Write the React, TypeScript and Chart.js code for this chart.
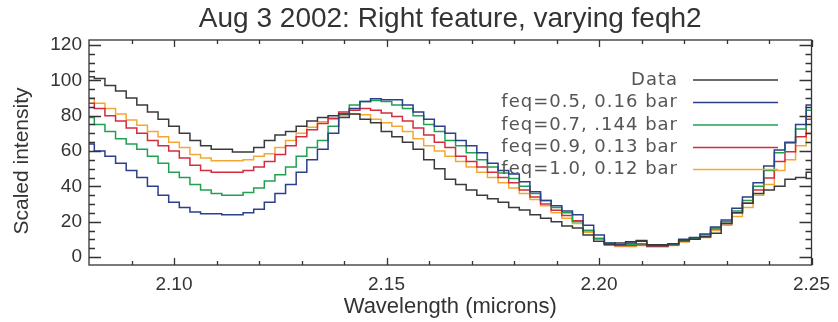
import React, { useEffect, useRef } from "react";
import { Chart, registerables } from "chart.js";

Chart.register(...registerables);

const titleText = "Aug 3 2002: Right feature, varying feqh2";
const xTitle = "Wavelength (microns)";
const yTitle = "Scaled intensity";

const wavelengths = [
  2.08, 2.0825, 2.085, 2.0875, 2.09, 2.0925, 2.095, 2.0975, 2.1, 2.1025,
  2.105, 2.1075, 2.11, 2.1125, 2.115, 2.1175, 2.12, 2.1225, 2.125, 2.1275,
  2.13, 2.1325, 2.135, 2.1375, 2.14, 2.1425, 2.145, 2.1475, 2.15, 2.1525,
  2.155, 2.1575, 2.16, 2.1625, 2.165, 2.1675, 2.17, 2.1725, 2.175, 2.1775,
  2.18, 2.1825, 2.185, 2.1875, 2.19, 2.1925, 2.195, 2.1975, 2.2, 2.2025,
  2.205, 2.2075, 2.21, 2.2125, 2.215, 2.2175, 2.22, 2.2225, 2.225, 2.2275,
  2.23, 2.2325, 2.235, 2.2375, 2.24, 2.2425, 2.245, 2.2475, 2.25,
];

const dataValues = [
  102, 101, 97, 94, 90, 86, 82, 78, 74, 70,
  66, 63, 61, 61, 59.5, 59.5, 62, 66, 69, 71,
  74, 77, 79, 80, 81, 81, 78, 76, 71, 68,
  65, 61, 55, 50, 44, 41, 38, 35, 33, 31,
  28, 26.6, 24, 22, 20, 17.5, 16.4, 12.5, 9, 7,
  8, 8.7, 9.3, 7, 7, 7.5, 9.6, 10, 11.5, 13.5,
  19, 25, 30.5, 36, 38, 40, 44, 45, 48,
];

const feq05 = [
  64, 60, 57, 53, 49, 45, 40, 35, 31, 28,
  25.5, 24.5, 24.5, 24, 24, 25, 27, 31, 36, 41,
  48, 55, 61, 70, 79, 84, 88, 89.5, 89, 89,
  86, 82, 78, 74, 70, 66, 63, 59, 53, 49,
  47, 42.6, 37, 32, 29, 26, 24, 18, 12.5, 8,
  7, 8, 9, 6.5, 6.5, 7.5, 10, 11, 13, 17,
  21, 27.6, 34, 42, 51.5, 60.5, 65, 75, 86,
];

const feq07 = [
  79, 75, 71, 67, 64, 61, 57, 53, 48, 45,
  41, 38, 36, 35, 35, 36.5, 39, 43, 46.5, 51,
  57, 62, 66, 74, 81, 86, 88, 88.5, 88, 86,
  84, 80, 75, 71, 66, 63, 59, 55, 51, 47.5,
  44.5, 40, 36, 32, 28, 25, 20, 15, 10.5, 8,
  7, 7.3, 7.5, 6.5, 6.5, 7.3, 9.5, 10.5, 12.5, 16.4,
  20, 26, 32, 40, 49, 59, 64.5, 72.5, 83,
];

const feq09 = [
  87, 84, 80, 77, 73, 70, 66, 63, 60, 56,
  52, 49, 48, 48, 48, 49, 51, 54, 58, 63,
  68, 72, 75.5, 78.5, 82, 83, 84, 83, 81.5, 79.5,
  77, 73, 69, 65, 62, 57, 54, 51, 48, 45,
  42, 38, 34, 30, 26.5, 23.5, 20.5, 15, 10.5, 7.5,
  6.5, 6.5, 7, 6, 6, 6.8, 9, 10, 11.5, 15.8,
  19, 25, 30.5, 38, 44.7, 54, 59.6, 68, 78,
];

const feq10 = [
  90, 87, 84, 81, 77.5, 74.5, 71, 68, 65, 62,
  58, 56, 54.5, 54.5, 54.5, 55, 57, 58.5, 62, 66,
  70, 73.5, 76.5, 78, 80, 81, 80.5, 78, 76, 74,
  71, 67, 63, 60, 57, 54, 51, 48, 45, 42,
  39, 36, 32.5, 29, 25, 22, 19, 14, 10, 7,
  6, 6, 6.5, 6, 6, 6.5, 8.5, 10, 11, 15,
  18, 23, 28, 35, 41, 49, 55, 63, 70,
];

const seriesLabels = [
  "Data",
  "feq=0.5, 0.16 bar",
  "feq=0.7, .144 bar",
  "feq=0.9, 0.13 bar",
  "feq=1.0, 0.12 bar",
];
const seriesColors = ["#3a3a3a", "#2c3f8a", "#22a052", "#d22c3e", "#f5a733"];
const seriesValues = [dataValues, feq05, feq07, feq09, feq10];

const xTicks = [2.1, 2.15, 2.2, 2.25];
const xMinorTicks = [
  2.09, 2.1, 2.11, 2.12, 2.13, 2.14, 2.15, 2.16, 2.17, 2.18, 2.19, 2.2,
  2.21, 2.22, 2.23, 2.24, 2.25,
];
const yTicks = [0, 20, 40, 60, 80, 100, 120];
const yMinorTicks = [
  0, 5, 10, 15, 20, 25, 30, 35, 40, 45, 50, 55, 60, 65, 70, 75, 80, 85, 90,
  95, 100, 105, 110, 115, 120,
];

const FONT = '"Liberation Sans", Arial, Helvetica, sans-serif';
const INK = "#333333";

const framePlugin = {
  id: "idlFrame",
  afterDatasetsDraw(chart: any) {
    const { ctx, chartArea, scales } = chart;
    const { left, right, top, bottom } = chartArea;
    const x = scales.x;
    const y = scales.y;
    ctx.save();
    ctx.strokeStyle = INK;
    ctx.lineWidth = 1.3;
    ctx.strokeRect(left, top, right - left, bottom - top);
    ctx.beginPath();
    for (const v of xMinorTicks) {
      const px = Math.round(x.getPixelForValue(v)) + 0.5;
      const major = xTicks.some((t) => Math.abs(t - v) < 1e-9);
      const len = major ? 7 : 4;
      ctx.moveTo(px, bottom);
      ctx.lineTo(px, bottom - len);
      ctx.moveTo(px, top);
      ctx.lineTo(px, top + len);
    }
    for (const v of yMinorTicks) {
      const py = Math.round(y.getPixelForValue(v)) + 0.5;
      const major = yTicks.indexOf(v) >= 0;
      const len = major ? 12 : 6;
      ctx.moveTo(left, py);
      ctx.lineTo(left + len, py);
      ctx.moveTo(right, py);
      ctx.lineTo(right - len, py);
    }
    ctx.stroke();

    // y axis title
    ctx.fillStyle = INK;
    ctx.font = `21px ${FONT}`;
    ctx.textAlign = "center";
    ctx.textBaseline = "middle";
    ctx.translate(22, 161);
    ctx.rotate(-Math.PI / 2);
    ctx.fillText(yTitle, 0, 0);
    ctx.restore();
  },
};

const legendPlugin = {
  id: "idlLegend",
  afterDraw(chart: any) {
    const { ctx } = chart;
    ctx.save();
    ctx.font = `18px "DejaVu Sans", sans-serif`;
    try {
      (ctx as any).letterSpacing = "1px";
    } catch (e) {}
    ctx.textAlign = "right";
    ctx.textBaseline = "middle";
    const rowY = [80, 102.5, 125, 147.5, 169.5];
    seriesLabels.forEach((label, i) => {
      ctx.fillStyle = "#555555";
      ctx.fillText(label, 678, rowY[i]);
      ctx.strokeStyle = seriesColors[i];
      ctx.lineWidth = 1.5;
      ctx.beginPath();
      ctx.moveTo(693, rowY[i]);
      ctx.lineTo(778, rowY[i]);
      ctx.stroke();
    });
    ctx.restore();
  },
};

export default function App() {
  const canvasRef = useRef<HTMLCanvasElement | null>(null);

  useEffect(() => {
    const canvas = canvasRef.current;
    if (!canvas) return;
    const chart = new Chart(canvas, {
      type: "line",
      data: {
        datasets: seriesValues.map((vals, si) => ({
          label: seriesLabels[si],
          data: wavelengths.map((w, i) => ({ x: w, y: vals[i] })),
          borderColor: seriesColors[si],
          backgroundColor: seriesColors[si],
          borderWidth: 1.5,
          pointRadius: 0,
          stepped: "middle",
          fill: false,
        })),
      },
      options: {
        animation: false,
        responsive: false,
        devicePixelRatio: 1,
        layout: { padding: { left: 0, right: 25, top: 0, bottom: 0 } },
        plugins: {
          legend: { display: false },
          tooltip: { enabled: false },
          title: {
            display: true,
            text: titleText,
            fullSize: false,
            color: INK,
            font: { family: FONT, size: 28, weight: "normal" },
            padding: { top: 2.5, bottom: 3.9 },
          },
        },
        scales: {
          x: {
            type: "linear",
            min: 2.08,
            max: 2.25,
            afterBuildTicks: (s: any) => {
              s.ticks = xTicks.map((v) => ({ value: v }));
            },
            afterFit: (s: any) => {
              s.height = 57;
            },
            ticks: {
              callback: (v: any) => Number(v).toFixed(2),
              color: INK,
              font: { family: FONT, size: 19 },
              padding: 8,
              maxRotation: 0,
              autoSkip: false,
            },
            grid: { display: false, drawTicks: false },
            border: { display: false },
            title: {
              display: true,
              text: xTitle,
              color: INK,
              font: { family: FONT, size: 22 },
              padding: { top: 0, bottom: 2 },
            },
          },
          y: {
            type: "linear",
            min: -4.5,
            max: 122.8,
            afterBuildTicks: (s: any) => {
              s.ticks = yTicks.map((v) => ({ value: v }));
            },
            afterFit: (s: any) => {
              s.width = 89;
            },
            ticks: {
              color: INK,
              font: { family: FONT, size: 19 },
              padding: 7,
              autoSkip: false,
            },
            grid: { display: false, drawTicks: false },
            border: { display: false },
          },
        },
      },
      plugins: [framePlugin, legendPlugin],
    } as any);
    return () => chart.destroy();
  }, []);

  return (
    <div
      style={{
        position: "absolute",
        left: 0,
        top: 0,
        width: 838,
        height: 322,
        background: "#ffffff",
      }}
    >
      <canvas
        ref={canvasRef}
        width={838}
        height={322}
        style={{ display: "block", width: 838, height: 322 }}
      />
    </div>
  );
}
